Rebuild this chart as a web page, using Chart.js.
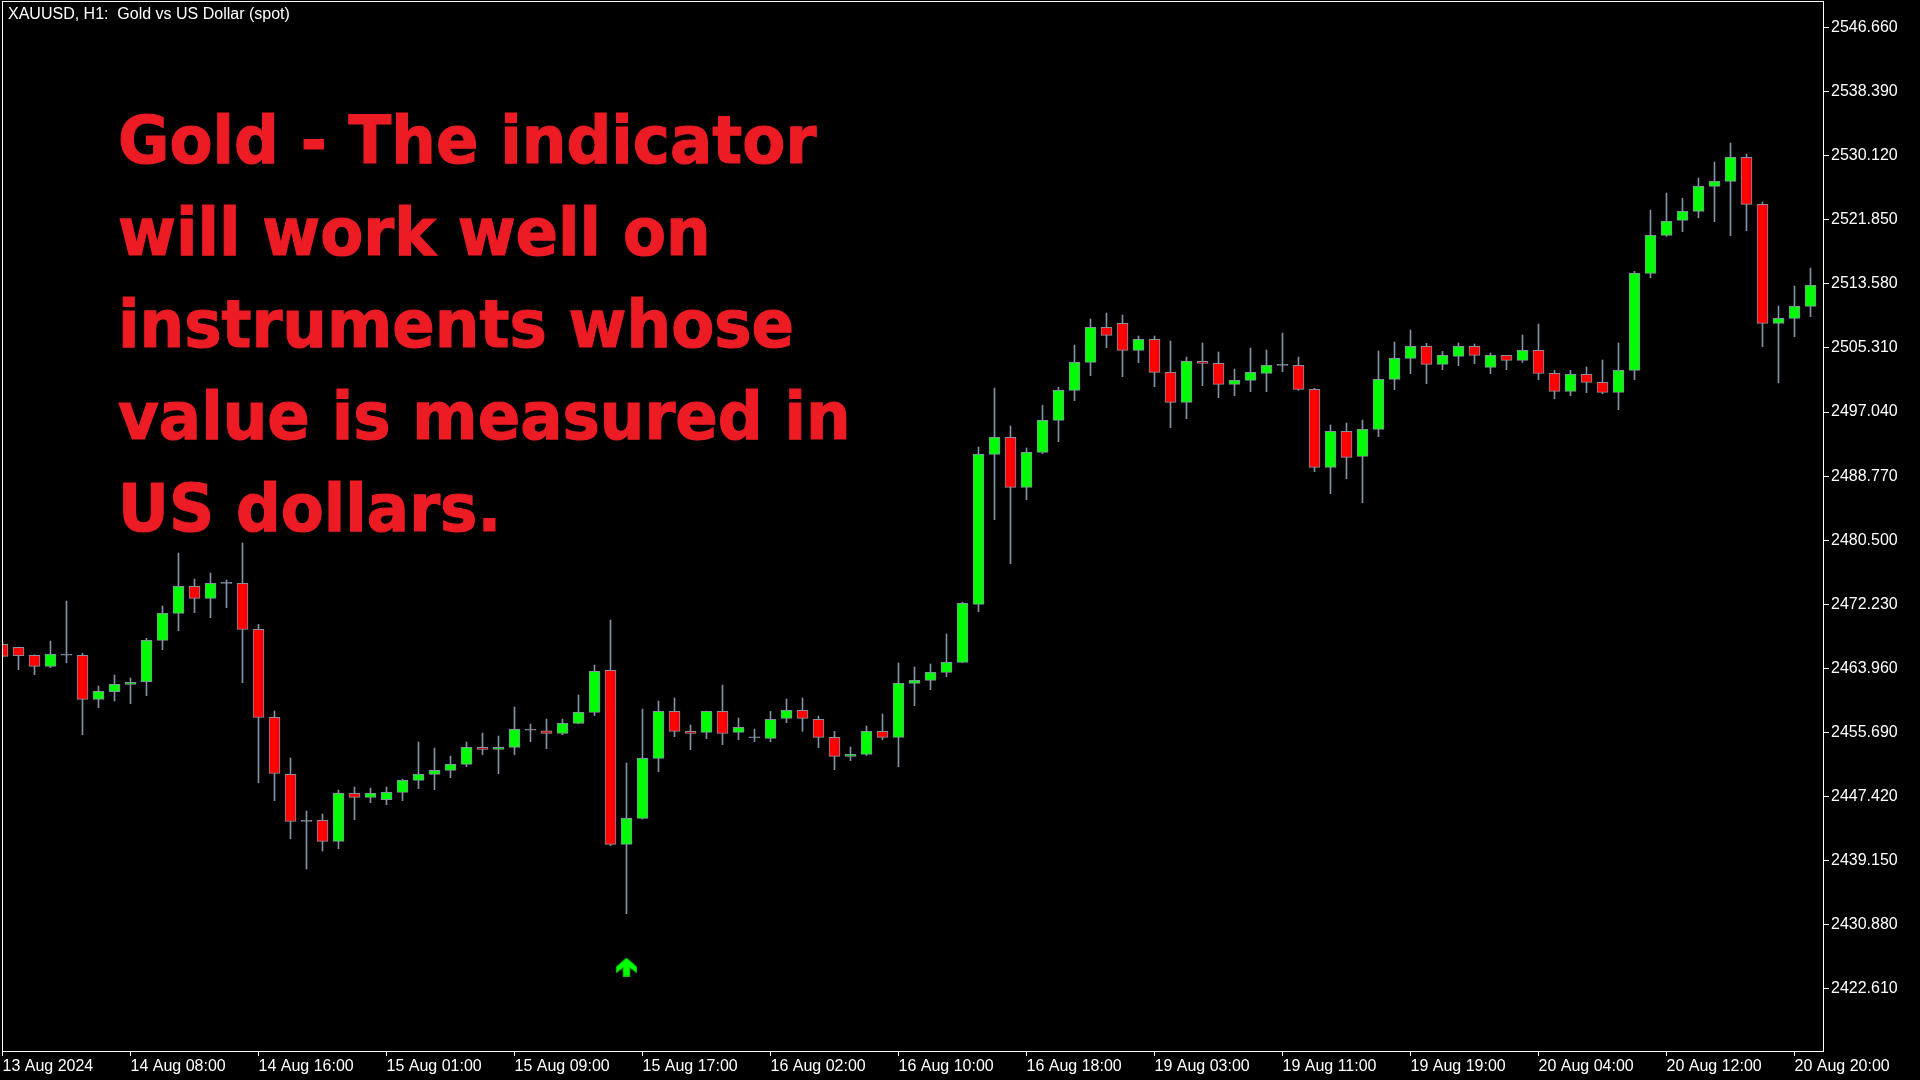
<!DOCTYPE html>
<html>
<head>
<meta charset="utf-8">
<script src="https://cdn.jsdelivr.net/npm/chart.js@4.4.1/dist/chart.umd.min.js"></script>
<style>
    html, body { margin: 0; padding: 0; background: #000; overflow: hidden; }
    #wrap { position: relative; width: 1920px; height: 1080px; }
    #chart { position: absolute; left: 0; top: 0; }
    #caption {
        position: absolute; left: 8px; top: 6px;
        font: 16px/16px "Liberation Sans", Arial, sans-serif;
        color: #fff; white-space: pre;
    }
    #note {
        position: absolute; left: 118px; top: 95px;
        font: bold 66px/92px "DejaVu Sans", sans-serif;
        color: #ed1c24; white-space: nowrap;
        -webkit-text-stroke: 1.2px #ed1c24;
        transform: scaleX(0.95); transform-origin: left top;
    }
</style>
</head>
<body>
<div id="wrap">
    <canvas id="chart" width="1920" height="1080"></canvas>
    <div id="caption">XAUUSD, H1:  Gold vs US Dollar (spot)</div>
    <div id="note">Gold - The indicator<br>will work well on<br>instruments whose<br>value is measured in<br>US dollars.</div>
</div>
<script>
// XAUUSD H1, 13 Aug 23:00 .. 20 Aug 21:00 (114 bars)
const open = [
    2467.05, 2466.66, 2465.63, 2464.21, 2465.67, 2465.63, 2459.95, 2460.94, 2461.89, 2462.23,
    2467.57, 2471.05, 2474.54, 2472.99, 2474.93, 2474.93, 2468.99, 2457.63, 2450.27, 2444.20,
    2444.33, 2441.62, 2447.81, 2447.30, 2447.00, 2447.94, 2449.49, 2450.27, 2450.78, 2451.56,
    2453.75, 2453.49, 2453.75, 2455.99, 2455.90, 2455.56, 2456.85, 2458.27, 2463.69, 2441.23,
    2444.59, 2452.34, 2458.40, 2455.82, 2455.69, 2458.40, 2455.69, 2455.00, 2454.92, 2457.50,
    2458.53, 2457.37, 2455.05, 2452.60, 2452.85, 2455.82, 2455.05, 2462.02, 2462.41, 2463.44,
    2464.73, 2472.22, 2491.58, 2493.77, 2487.32, 2491.84, 2495.97, 2499.84, 2503.45, 2507.97,
    2508.49, 2505.00, 2506.42, 2502.16, 2498.29, 2503.58, 2503.32, 2500.61, 2501.13, 2502.03,
    2503.07, 2503.07, 2499.97, 2489.90, 2494.55, 2491.32, 2494.81, 2501.26, 2503.97, 2505.52,
    2503.20, 2504.23, 2505.52, 2502.81, 2504.36, 2503.71, 2505.00, 2502.03, 2499.71, 2501.91,
    2500.87, 2499.58, 2502.42, 2514.94, 2519.84, 2521.78, 2522.94, 2526.17, 2526.81, 2529.91,
    2523.84, 2508.48, 2509.13, 2510.68
];
const high = [
    2467.30, 2466.70, 2465.70, 2467.48, 2472.64, 2465.89, 2461.67, 2463.09, 2462.71, 2467.83,
    2472.00, 2478.84, 2475.48, 2476.26, 2475.36, 2480.13, 2469.63, 2458.45, 2452.38, 2445.54,
    2445.15, 2448.24, 2448.63, 2448.50, 2448.63, 2449.66, 2454.44, 2453.67, 2452.63, 2454.44,
    2455.60, 2455.21, 2458.96, 2456.76, 2457.41, 2457.41, 2460.51, 2464.38, 2470.19, 2451.73,
    2458.70, 2459.74, 2460.13, 2456.64, 2458.45, 2461.80, 2457.54, 2456.12, 2458.40, 2460.00,
    2460.13, 2457.80, 2455.82, 2453.80, 2456.51, 2458.06, 2464.64, 2464.13, 2464.51, 2468.39,
    2472.52, 2492.52, 2500.14, 2495.24, 2492.40, 2497.90, 2500.23, 2505.69, 2509.05, 2509.82,
    2509.56, 2506.85, 2506.85, 2506.21, 2504.14, 2505.95, 2504.79, 2502.59, 2505.30, 2505.05,
    2507.24, 2504.14, 2500.10, 2495.37, 2495.62, 2496.01, 2504.92, 2506.08, 2507.63, 2505.91,
    2504.87, 2505.95, 2505.82, 2504.66, 2504.36, 2506.98, 2508.40, 2502.42, 2502.42, 2502.85,
    2503.76, 2505.95, 2515.20, 2523.11, 2525.31, 2524.62, 2527.24, 2529.31, 2531.76, 2530.34,
    2524.15, 2510.72, 2513.30, 2515.63
];
const low = [
    2465.40, 2463.78, 2463.14, 2464.04, 2464.68, 2455.39, 2458.88, 2459.74, 2459.39, 2460.42,
    2466.36, 2468.82, 2471.14, 2470.49, 2471.78, 2462.10, 2449.19, 2446.87, 2441.96, 2438.05,
    2440.37, 2440.67, 2444.41, 2446.61, 2446.35, 2446.87, 2448.42, 2448.29, 2449.84, 2451.26,
    2452.80, 2450.35, 2452.80, 2454.48, 2453.58, 2455.39, 2456.80, 2457.84, 2441.06, 2432.28,
    2444.50, 2450.62, 2455.13, 2453.46, 2454.88, 2454.10, 2454.75, 2454.49, 2454.49, 2456.94,
    2455.82, 2453.71, 2450.87, 2452.04, 2452.70, 2454.75, 2451.26, 2459.14, 2461.20, 2462.88,
    2464.70, 2471.27, 2483.14, 2477.47, 2485.73, 2491.66, 2493.21, 2498.51, 2501.73, 2505.35,
    2501.60, 2503.41, 2500.31, 2495.02, 2496.18, 2500.44, 2498.89, 2499.15, 2499.67, 2499.67,
    2502.25, 2499.84, 2489.34, 2486.50, 2488.44, 2485.34, 2493.86, 2499.93, 2501.99, 2500.70,
    2502.51, 2503.02, 2503.28, 2501.99, 2502.51, 2503.45, 2501.22, 2498.76, 2499.15, 2499.54,
    2499.41, 2497.34, 2501.21, 2514.38, 2519.70, 2520.32, 2522.12, 2521.61, 2519.80, 2520.45,
    2505.47, 2500.82, 2506.76, 2509.34
];
const close = [
    2465.50, 2465.59, 2464.21, 2465.76, 2465.67, 2459.95, 2460.98, 2461.89, 2462.15, 2467.57,
    2471.05, 2474.54, 2472.99, 2474.93, 2474.93, 2468.99, 2457.63, 2450.40, 2444.20, 2444.20,
    2441.62, 2447.81, 2447.30, 2447.81, 2447.94, 2449.49, 2450.27, 2450.78, 2451.56, 2453.75,
    2453.49, 2453.75, 2456.08, 2455.99, 2455.56, 2456.85, 2458.27, 2463.56, 2441.23, 2444.59,
    2452.33, 2458.40, 2455.82, 2455.56, 2458.40, 2455.56, 2456.34, 2455.00, 2457.37, 2458.53,
    2457.50, 2455.05, 2452.60, 2452.85, 2455.82, 2455.05, 2462.02, 2462.41, 2463.44, 2464.73,
    2472.34, 2491.58, 2493.77, 2487.32, 2491.84, 2495.97, 2499.84, 2503.45, 2507.97, 2506.94,
    2505.00, 2506.42, 2502.16, 2498.29, 2503.58, 2503.32, 2500.61, 2501.13, 2502.16, 2503.07,
    2503.07, 2499.97, 2489.90, 2494.55, 2491.19, 2494.81, 2501.26, 2503.97, 2505.52, 2503.20,
    2504.36, 2505.52, 2504.36, 2504.36, 2503.71, 2505.00, 2502.03, 2499.71, 2501.91, 2500.87,
    2499.58, 2502.42, 2514.94, 2519.84, 2521.65, 2522.94, 2526.17, 2526.81, 2529.91, 2523.84,
    2508.48, 2509.13, 2510.68, 2513.39
];

// time axis labels (bar index -> label)
const timeTickIndex = [0, 8, 16, 24, 32, 40, 48, 56, 64, 72, 80, 88, 96, 104, 112];
const timeTickLabels = [
    "13 Aug 2024", "14 Aug 08:00", "14 Aug 16:00", "15 Aug 01:00", "15 Aug 09:00",
    "15 Aug 17:00", "16 Aug 02:00", "16 Aug 10:00", "16 Aug 18:00", "19 Aug 03:00",
    "19 Aug 11:00", "19 Aug 19:00", "20 Aug 04:00", "20 Aug 12:00", "20 Aug 20:00"
];

// price axis
const priceTicks = [
    2546.66, 2538.39, 2530.12, 2521.85, 2513.58, 2505.31, 2497.04, 2488.77,
    2480.50, 2472.23, 2463.96, 2455.69, 2447.42, 2439.15, 2430.88, 2422.61
];
const priceMin = 2414.56;
const priceMax = 2549.97;

// buy signal arrow
const signalIndex = [39];
const signalPrice = [2425.4];

const BULL = "#00ff00";
const BEAR = "#ff0000";
const EDGE = "#8391a3";
const FG = "#ffffff";

function makeArrow() {
    const c = document.createElement("canvas");
    c.width = 21;
    c.height = 19;
    const g = c.getContext("2d");
    g.fillStyle = "#00ff00";
    g.strokeStyle = "#10c010";
    g.lineWidth = 1;
    g.beginPath();
    g.moveTo(10.5, 0.5);
    g.lineTo(20.5, 9);
    g.lineTo(20.5, 15);
    g.lineTo(13.8, 10);
    g.lineTo(13.8, 18.5);
    g.lineTo(7.2, 18.5);
    g.lineTo(7.2, 10);
    g.lineTo(0.5, 15);
    g.lineTo(0.5, 9);
    g.closePath();
    g.fill();
    g.stroke();
    return c;
}

// no extra room for overhanging tick labels: the plot runs to the frame
function noPad(axis) {
    axis.paddingLeft = 0;
    axis.paddingRight = 0;
    axis.paddingTop = 0;
    axis.paddingBottom = 0;
}

const framePlugin = {
    id: "frame",
    afterDraw(chart) {
        const { ctx, chartArea: a } = chart;
        ctx.save();
        ctx.strokeStyle = FG;
        ctx.lineWidth = 1;
        ctx.strokeRect(a.left + 0.5, a.top - 0.5, a.right - a.left - 1, a.bottom - a.top + 1);
        ctx.restore();
    },
};

const bodyColors = open.map((o, i) => o < close[i] ? BULL : (o > close[i] ? BEAR : EDGE));

new Chart(document.getElementById("chart"), {
    type: "bar",
    data: {
        datasets: [
            {
                label: "body",
                data: open.map((o, i) => ({ x: i, y: [o, close[i]] })),
                backgroundColor: bodyColors,
                borderColor: EDGE,
                borderWidth: 1,
                borderSkipped: false,
                barThickness: 11,
                minBarLength: 1,
                grouped: false,
            },
            {
                label: "wick",
                data: low.map((l, i) => ({ x: i, y: [l, high[i]] })),
                backgroundColor: EDGE,
                borderWidth: 0,
                barThickness: 1,
                grouped: false,
            },
            {
                type: "scatter",
                label: "signal",
                data: signalIndex.map((x, i) => ({ x, y: signalPrice[i] })),
                pointStyle: makeArrow(),
                pointRadius: 10,
            },
        ],
    },
    options: {
        responsive: false,
        devicePixelRatio: 1,
        animation: false,
        layout: { autoPadding: false, padding: { left: 2, top: 2, right: 0, bottom: 0 } },
        plugins: {
            legend: { display: false },
            tooltip: { enabled: false },
        },
        scales: {
            x: {
                type: "linear",
                position: "bottom",
                min: -0.03125,
                max: 113.84375,
                offset: false,
                afterBuildTicks: (axis) => { axis.ticks = timeTickIndex.map(v => ({ value: v })); },
                afterFit: (axis) => { axis.height = 29; noPad(axis); },
                border: { display: false },
                grid: { offset: false, drawOnChartArea: false, drawTicks: true, tickLength: 5, color: FG },
                ticks: {
                    autoSkip: false,
                    maxRotation: 0,
                    align: "start",
                    padding: 1,
                    color: FG,
                    font: { family: "Liberation Sans", size: 16 },
                    callback: (v) => timeTickLabels[timeTickIndex.indexOf(v)],
                },
            },
            y: {
                type: "linear",
                position: "right",
                min: priceMin,
                max: priceMax,
                afterBuildTicks: (axis) => { axis.ticks = priceTicks.map(v => ({ value: v })); },
                afterFit: (axis) => { axis.width = 96; noPad(axis); },
                border: { display: false },
                grid: { drawOnChartArea: false, drawTicks: true, tickLength: 5, color: FG },
                ticks: {
                    autoSkip: false,
                    padding: 2,
                    color: FG,
                    font: { family: "Liberation Sans", size: 16 },
                    callback: (v) => Number(v).toFixed(3),
                },
            },
        },
    },
    plugins: [framePlugin],
});
</script>
</body>
</html>
